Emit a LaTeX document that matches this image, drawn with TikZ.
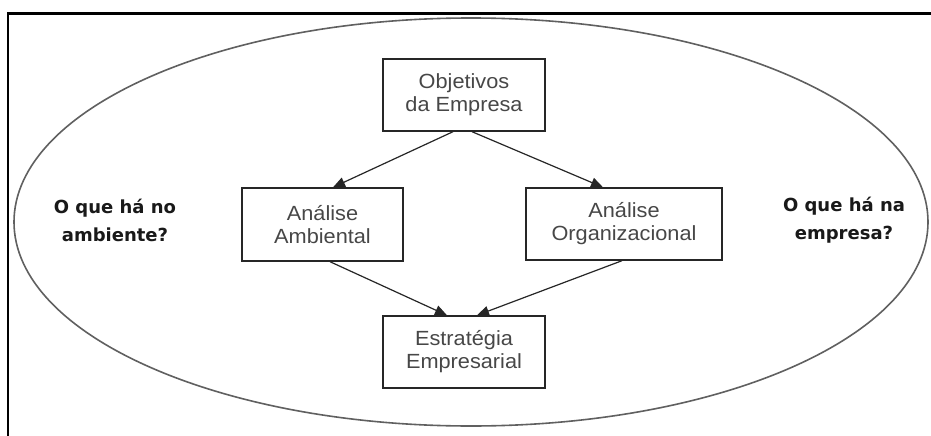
\documentclass[tikz,border=0pt]{standalone}
\usepackage{fontspec}
\usetikzlibrary{arrows.meta}
\newfontfamily\boxfont[FakeStretch=1.06]{Liberation Sans}
\newfontfamily\lblfont{DejaVu Sans}
\definecolor{boxtext}{HTML}{474747}
\definecolor{ellcol}{HTML}{606060}
\tikzset{
  box/.style={draw=black!85, line width=1.4pt, rectangle, align=center, inner sep=0pt,
    text=boxtext, font=\boxfont\fontsize{20.5}{23}\selectfont},
  lbl/.style={align=center, inner sep=0pt, text=black!90,
    font=\lblfont\bfseries\fontsize{18}{28}\selectfont},
  arr/.style={draw=black!85, line width=1.2pt, -{Triangle[length=12pt,width=10pt]}},
}
\begin{document}
\begin{tikzpicture}[x=1pt,y=-1pt]
\useasboundingbox (0,0) rectangle (931,436);
\fill[white] (0,0) rectangle (931,436);
% frame (top and left only)
\draw[line width=3pt, line cap=rect] (8,14) -- (931,14);
\draw[line width=2.5pt] (8,14) -- (8,436);
% ellipse
\draw[ellcol, line width=1.6pt] (471,222) ellipse [x radius=457, y radius=204];
% boxes
\node[box, minimum width=162pt, minimum height=72pt] (obj) at (464,95) {Objetivos\\da Empresa};
\node[box, minimum width=161pt, minimum height=73pt] (amb) at (322.5,224.5) {Análise\\Ambiental};
\node[box, minimum width=196pt, minimum height=72pt] (org) at (624,224) {Análise\\Organizacional};
\node[box, minimum width=162pt, minimum height=72pt] (est) at (464,352) {Estratégia\\Empresarial};
% side labels
\node[lbl] (lq) at (115,220) {O que há no\\ambiente?};
\node[lbl] (rq) at (844,220) {O que há na\\empresa?};
% arrows
\draw[arr] ([xshift=-11pt]obj.south) -- ([xshift=10.5pt]amb.north);
\draw[arr] ([xshift=8pt]obj.south) -- ([xshift=-21pt]org.north);
\draw[arr] ([xshift=7.5pt]amb.south) -- ([xshift=-17pt]est.north);
\draw[arr] ([xshift=-2pt]org.south) -- ([xshift=13pt]est.north);
\end{tikzpicture}
\end{document}
